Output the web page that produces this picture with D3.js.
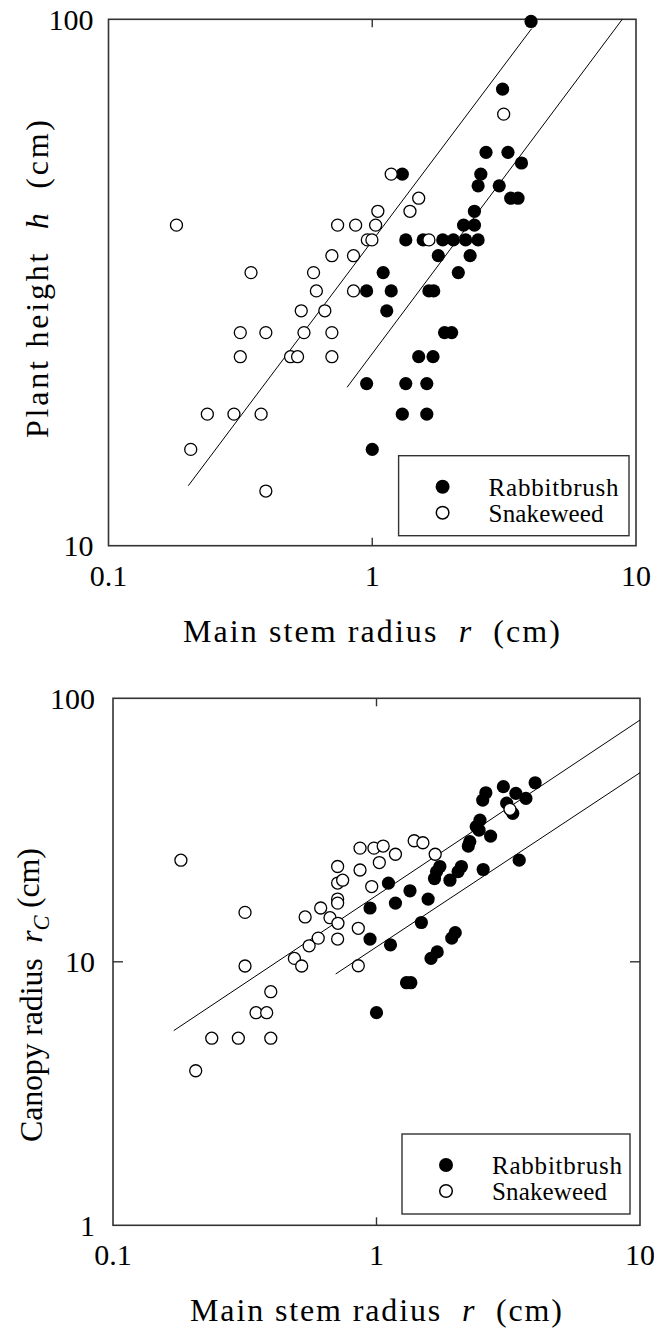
<!DOCTYPE html>
<html><head><meta charset="utf-8">
<script src="https://cdn.jsdelivr.net/npm/d3@7"></script>
<style>body{margin:0;background:#fff}</style>
</head><body>
<svg id="c" width="654" height="1336" font-family="Liberation Serif"></svg>
<script>
// ---------- data ----------
const xTickValues = [0.1, 1, 10];
const xTickLabels = ["0.1", "1", "10"];
const hTickValues = [10, 100];
const hTickLabels = ["10", "100"];
const rcTickValues = [1, 10, 100];
const rcTickLabels = ["1", "10", "100"];
const seriesNames = ["Rabbitbrush", "Snakeweed"];

// Panel 1: main stem radius r (cm) vs plant height h (cm)
const rabbitR1 = [4.0,3.12,2.70,3.27,3.68,2.58,1.30,2.52,3.03,3.35,3.57,2.44,2.22,2.44,1.34,1.56,1.85,2.03,2.26,2.52,1.78,2.35,1.10,2.12,0.952,1.18,1.64,1.71,1.135,1.88,2.00,1.50,1.70,0.952,1.34,1.61,1.30,1.61,1.00];
const rabbitH  = [99.06,73.66,55.88,55.88,53.34,50.8,50.8,48.26,48.26,45.72,45.72,43.18,40.64,40.64,38.1,38.1,38.1,38.1,38.1,38.1,35.56,35.56,33.02,33.02,30.48,30.48,30.48,30.48,27.94,25.4,25.4,22.86,22.86,20.32,20.32,20.32,17.78,17.78,15.24];
const snakeR1  = [0.181,0.205,0.237,0.299,0.379,0.395,0.316,0.395,0.551,0.703,0.316,0.49,0.521,0.703,0.538,0.661,0.614,0.849,0.347,0.599,0.703,0.849,0.958,0.997,1.64,0.739,0.865,1.03,1.05,1.39,1.50,1.18,3.15];
const snakeH   = [40.64,15.24,17.78,17.78,17.78,12.7,25.4,25.4,25.4,25.4,22.86,22.86,22.86,22.86,27.94,27.94,30.48,30.48,33.02,33.02,35.56,35.56,38.1,38.1,38.1,40.64,40.64,40.64,43.18,43.18,45.72,50.8,66.04];
// fitted power-law lines (end points)
const fitRabbitR1 = [0.803, 8.87], fitRabbitH = [20.0, 100];
const fitSnakeR1  = [0.2007, 4.02], fitSnakeH  = [13.0, 96];

// Panel 2: main stem radius r (cm) vs canopy radius rC (cm)
const rabbitR2 = [4.0,3.03,3.38,3.69,2.60,2.53,3.12,3.29,2.47,2.39,2.45,2.71,2.26,2.23,3.48,1.74,1.69,1.66,2.10,2.04,1.90,2.54,1.11,1.34,0.945,1.18,1.57,1.48,0.945,1.13,1.99,1.93,1.70,1.61,1.30,1.35,1.0];
const rabbitRC = [47.8,46.2,43.6,41.7,43.8,41.1,40.0,36.6,34.5,32.6,31.6,30.0,28.6,27.5,24.3,23.0,22.0,20.7,23.0,22.0,20.4,22.4,19.9,18.6,16.0,16.7,17.3,14.1,12.2,11.6,12.9,12.3,10.9,10.3,8.33,8.33,6.41];
const snakeR2  = [0.181,0.317,0.317,0.397,0.349,0.383,0.237,0.299,0.397,0.206,0.536,0.488,0.52,0.555,0.601,0.614,0.666,0.712,0.712,0.744,0.712,0.712,0.714,0.712,0.853,0.959,0.866,0.866,0.978,1.06,1.025,1.18,0.853,1.39,1.50,1.67,3.21];
const snakeRC  = [24.3,15.4,9.64,7.70,6.41,6.41,5.13,5.13,5.13,3.86,14.8,10.3,9.64,11.5,12.3,16.0,14.7,23.0,19.9,20.4,17.3,16.7,14.0,12.2,13.4,19.3,22.3,27.0,27.0,27.5,23.8,25.6,9.66,28.8,28.3,25.6,37.9];
const fitRabbitR2 = [0.70, 10], fitRabbitRC = [8.99, 52.2];
const fitSnakeR2  = [0.170, 10], fitSnakeRC  = [5.48, 82.7];

// ---------- drawing ----------
const FF = "Liberation Serif";
const svg = d3.select("#c");
const FONT_TICK = 30, FONT_TITLE = 32, FONT_LEG = 25;
const MR = 6.6;

function panel(cfg){
  const x = d3.scaleLog().domain([0.1, 10]).range([cfg.left, cfg.right]);
  const y = d3.scaleLog().domain(cfg.yDomain).range([cfg.bottom, cfg.top]);
  const g = svg.append("g").attr("font-family", FF);
  const [x0, x1] = x.range(), [yb, yt] = y.range();
  // frame
  g.append("rect").attr("x", x0).attr("y", yt).attr("width", x1-x0).attr("height", yb-yt)
    .attr("fill","none").attr("stroke","#333").attr("stroke-width",1.6);
  // inner ticks
  const tl = 8;
  xTickValues.filter(v=>v>x.domain()[0] && v<x.domain()[1]).forEach(v=>{
    g.append("line").attr("x1",x(v)).attr("x2",x(v)).attr("y1",yb).attr("y2",yb-tl).attr("stroke","#333").attr("stroke-width",1.4);
    g.append("line").attr("x1",x(v)).attr("x2",x(v)).attr("y1",yt).attr("y2",yt+tl).attr("stroke","#333").attr("stroke-width",1.4);
  });
  cfg.yTicks.filter(v=>v>cfg.yDomain[0] && v<cfg.yDomain[1]).forEach(v=>{
    g.append("line").attr("y1",y(v)).attr("y2",y(v)).attr("x1",x0).attr("x2",x0+10).attr("stroke","#333").attr("stroke-width",1.4);
    g.append("line").attr("y1",y(v)).attr("y2",y(v)).attr("x1",x1).attr("x2",x1-10).attr("stroke","#333").attr("stroke-width",1.4);
  });
  // tick labels
  xTickValues.forEach((v,i)=>{
    g.append("text").attr("x",x(v)).attr("y",yb+cfg.xLabelDy).attr("text-anchor","middle")
      .attr("font-family",FF).attr("font-size",FONT_TICK).text(xTickLabels[i]);
  });
  cfg.yTicks.forEach((v,i)=>{
    g.append("text").attr("x",x0-cfg.yLabelGap).attr("y",y(v)).attr("dy","0.35em").attr("text-anchor","end")
      .attr("font-family",FF).attr("font-size",FONT_TICK).text(cfg.yTickLabels[i]);
  });
  // fit lines
  cfg.fits.forEach(f=>{
    g.append("line").attr("x1",x(f.r[0])).attr("y1",y(f.v[0])).attr("x2",x(f.r[1])).attr("y2",y(f.v[1]))
      .attr("stroke","#000").attr("stroke-width",1);
  });
  // points
  const rab = cfg.rabbitR.map((r,i)=>[r,cfg.rabbitV[i]]);
  const snk = cfg.snakeR.map((r,i)=>[r,cfg.snakeV[i]]);
  g.append("g").selectAll("circle").data(rab).join("circle")
    .attr("cx",d=>x(d[0])).attr("cy",d=>y(d[1])).attr("r",MR).attr("fill","#000");
  g.append("g").selectAll("circle").data(snk).join("circle")
    .attr("cx",d=>x(d[0])).attr("cy",d=>y(d[1])).attr("r",MR-0.6).attr("fill","#fff").attr("stroke","#000").attr("stroke-width",1.3);
  // legend
  const L = cfg.legend;
  g.append("rect").attr("x",L.x).attr("y",L.y).attr("width",L.w).attr("height",L.h)
    .attr("fill","#fff").attr("stroke","#333").attr("stroke-width",1.4);
  seriesNames.forEach((name,i)=>{
    const cy = L.y + 31 + i*26;
    const c = g.append("circle").attr("cx",L.x+44).attr("cy",cy).attr("r",i===0?7:6.3);
    if (i===0) c.attr("fill","#000"); else c.attr("fill","#fff").attr("stroke","#000").attr("stroke-width",1.5);
    g.append("text").attr("x",L.x+90).attr("y",cy+9).attr("font-family",FF).attr("font-size",FONT_LEG)
      .attr("textLength", i===0?130:115).attr("lengthAdjust","spacing").text(name);
  });
  // x title
  const xt = g.append("text").attr("x",cfg.xTitle[0]).attr("y",yb+cfg.xTitleDy)
    .attr("font-family",FF).attr("font-size",FONT_TITLE).attr("textLength",cfg.xTitle[1]-cfg.xTitle[0])
    .attr("lengthAdjust","spacing").attr("xml:space","preserve");
  xt.append("tspan").text("Main stem radius  ");
  xt.append("tspan").attr("font-style","italic").text("r");
  xt.append("tspan").text("  (cm)");
  // y title
  const ytt = g.append("text").attr("transform",`translate(${cfg.yTitleX},${cfg.yTitleY[0]}) rotate(-90)`)
    .attr("font-family",FF).attr("font-size",FONT_TITLE).attr("textLength",cfg.yTitleY[0]-cfg.yTitleY[1])
    .attr("lengthAdjust","spacing").attr("xml:space","preserve");
  cfg.yTitle(ytt);
}

panel({
  left:108.5, right:636, top:19.3, bottom:545.7,
  yDomain:[10,100], yTicks:hTickValues, yTickLabels:hTickLabels, yLabelGap:15,
  xLabelDy:40, xTitleDy:96, xTitle:[183,560],
  rabbitR:rabbitR1, rabbitV:rabbitH, snakeR:snakeR1, snakeV:snakeH,
  fits:[{r:fitSnakeR1,v:fitSnakeH},{r:fitRabbitR1,v:fitRabbitH}],
  legend:{x:398.6,y:455.7,w:230.4,h:80},
  yTitleX:48, yTitleY:[438,120],
  yTitle:t=>{ t.append("tspan").text("Plant height  "); t.append("tspan").attr("font-style","italic").text("h"); t.append("tspan").text("  (cm)"); }
});
panel({
  left:113, right:640, top:698.3, bottom:1225.3,
  yDomain:[1,100], yTicks:rcTickValues, yTickLabels:rcTickLabels, yLabelGap:18,
  xLabelDy:40, xTitleDy:96, xTitle:[190,562],
  rabbitR:rabbitR2, rabbitV:rabbitRC, snakeR:snakeR2, snakeV:snakeRC,
  fits:[{r:fitSnakeR2,v:fitSnakeRC},{r:fitRabbitR2,v:fitRabbitRC}],
  legend:{x:402,y:1134,w:228,h:80},
  yTitleX:42, yTitleY:[1142,848],
  yTitle:t=>{ t.append("tspan").text("Canopy radius  "); t.append("tspan").attr("font-style","italic").text("r");
              t.append("tspan").attr("font-style","italic").attr("font-size",FONT_TITLE*0.7).attr("dy","0.3em").text("C");
              t.append("tspan").attr("dy","-0.3em").text(" (cm)"); }
});
</script>
</body></html>
